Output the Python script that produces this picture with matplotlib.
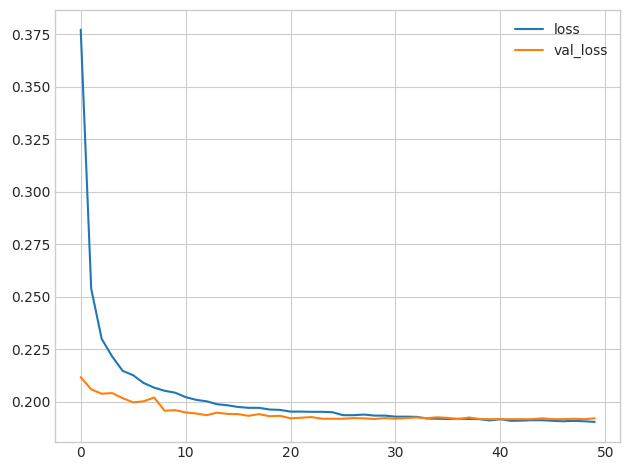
import matplotlib
matplotlib.use('Agg')
import matplotlib.pyplot as plt

plt.style.use('seaborn-v0_8-whitegrid')
plt.rcParams['font.family'] = ['DejaVu Sans']

loss = [0.3771, 0.2539, 0.2300, 0.2216, 0.2148, 0.2127, 0.2090, 0.2068, 0.2053, 0.2044,
        0.2023, 0.2010, 0.2003, 0.1989, 0.1984, 0.1976, 0.1972, 0.1972, 0.1964, 0.1962,
        0.1954, 0.1954, 0.1953, 0.1953, 0.1951, 0.1937, 0.1937, 0.1940, 0.1935, 0.1935,
        0.1930, 0.1930, 0.1929, 0.1921, 0.1920, 0.1919, 0.1920, 0.1919, 0.1918, 0.1912,
        0.1918, 0.1910, 0.1911, 0.1913, 0.1913, 0.1910, 0.1908, 0.1910, 0.1908, 0.1905]
val_loss = [0.2118, 0.2060, 0.2039, 0.2042, 0.2018, 0.1998, 0.2003, 0.2021, 0.1958, 0.1961,
            0.1950, 0.1945, 0.1937, 0.1949, 0.1943, 0.1942, 0.1934, 0.1942, 0.1932, 0.1934,
            0.1922, 0.1925, 0.1928, 0.1920, 0.1920, 0.1920, 0.1923, 0.1922, 0.1919, 0.1923,
            0.1920, 0.1923, 0.1926, 0.1923, 0.1927, 0.1924, 0.1918, 0.1926, 0.1919, 0.1918,
            0.1918, 0.1918, 0.1918, 0.1918, 0.1922, 0.1918, 0.1918, 0.1920, 0.1918, 0.1922]

fig = plt.figure(figsize=(6.3, 4.7), dpi=100)
ax = fig.add_axes([0.0873, 0.0606, 0.8976, 0.918])
ax.plot(loss, label='loss')
ax.plot(val_loss, label='val_loss')
ax.legend()
fig.savefig('out.png', dpi=100)
